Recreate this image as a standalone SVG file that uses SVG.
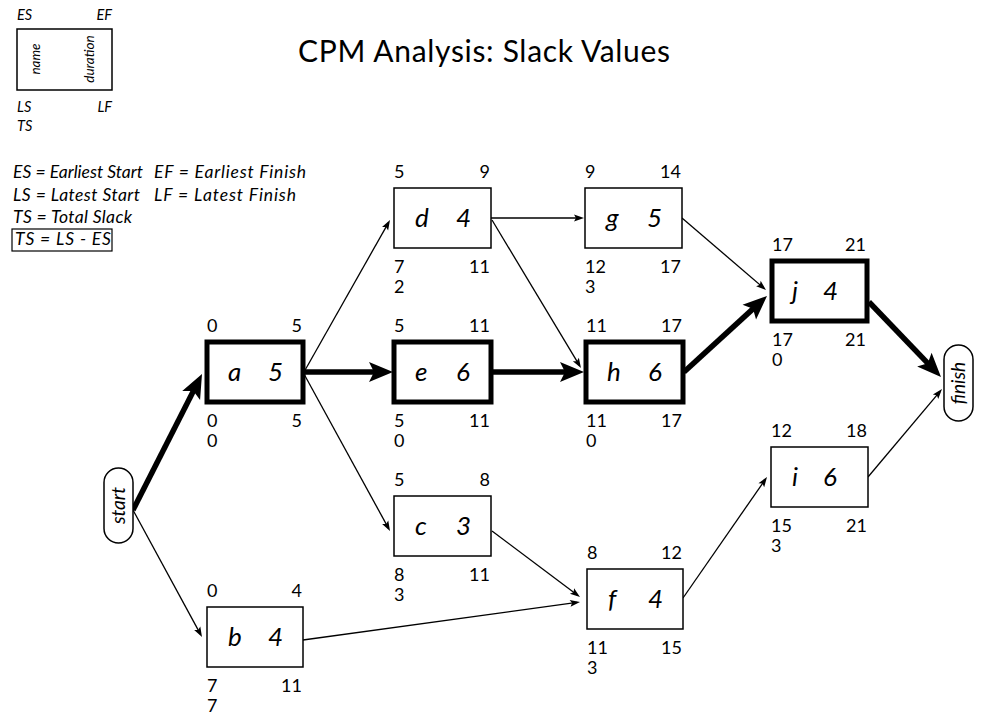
<svg xmlns="http://www.w3.org/2000/svg" width="985" height="716" viewBox="0 0 985 716">
<defs>
<style>
text{font-family:Lato,"Open Sans","Liberation Sans",sans-serif;fill:#000}
.it{font-style:italic}
.num{font-size:18px}
.nm{font-size:26px;font-style:italic}
.lg{font-size:17.5px;font-style:italic}
.lk{font-size:14.5px;font-style:italic}
.box{fill:#fff;stroke:#000;stroke-width:1.5}
.crit{fill:#fff;stroke:#000;stroke-width:5}
.thin{fill:none;stroke:#000;stroke-width:1.3;marker-end:url(#ah)}
.thick{fill:none;stroke:#000;stroke-width:5.5;marker-end:url(#ahb)}
.end{text-anchor:end}
.mid{text-anchor:middle}
</style>
<marker id="ah" markerUnits="userSpaceOnUse" markerWidth="12" markerHeight="9" refX="7" refY="3.5" orient="auto" overflow="visible">
<path d="M0,0 L10,3.5 L0,7 L2,3.5 z" fill="#000"/>
</marker>
<marker id="ahb" markerUnits="userSpaceOnUse" markerWidth="26" markerHeight="22" refX="12" refY="10" orient="auto" overflow="visible">
<path d="M0,0 L24,10 L0,20 L5,10 z" fill="#000"/>
</marker>
</defs>
<rect width="985" height="716" fill="#fff"/>

<text x="298" y="62" style="font-size:30px" textLength="372">CPM Analysis: Slack Values</text>

<g id="legend">
<rect x="17" y="29" width="95" height="61" class="box"/>
<text x="17" y="20" class="lk">ES</text>
<text x="112" y="20" class="lk end">EF</text>
<text x="17" y="112" class="lk">LS</text>
<text x="112" y="112" class="lk end">LF</text>
<text x="17" y="131" class="lk">TS</text>
<text transform="translate(36,59) rotate(-90)" x="0" y="4" class="mid it" style="font-size:13.5px">name</text>
<text transform="translate(90,59) rotate(-90)" x="0" y="4" class="mid it" style="font-size:13.5px">duration</text>
<text x="13" y="178" class="lg" textLength="130">ES = Earliest Start</text>
<text x="154" y="178" class="lg" textLength="152">EF = Earliest Finish</text>
<text x="13" y="201" class="lg" textLength="127">LS = Latest Start</text>
<text x="154" y="201" class="lg" textLength="142">LF = Latest Finish</text>
<text x="13" y="223" class="lg" textLength="119">TS = Total Slack</text>
<rect x="12" y="229" width="100" height="22" fill="none" stroke="#000" stroke-width="1.2"/>
<text x="15" y="245" class="lg" textLength="96">TS = LS - ES</text>
</g>

<g id="connectors">
<path class="thick" d="M133,510 L196.57,384.70"/>
<path class="thick" d="M305,372 L381,372"/>
<path class="thick" d="M492,372 L572,372"/>
<path class="thick" d="M684,372 L758.15,304.11"/>
<path class="thick" d="M869,302 L932.69,368.34"/>
<path class="thin" d="M133,510 L200.57,634.36"/>
<path class="thin" d="M304,372 L388.52,222.61"/>
<path class="thin" d="M304,374 L388.56,528.37"/>
<path class="thin" d="M491,218 L581,218"/>
<path class="thin" d="M492,220 L579.45,365.43"/>
<path class="thin" d="M682,218 L763.72,288.05"/>
<path class="thin" d="M492,531 L577.6,595.2"/>
<path class="thin" d="M303,640 L577.03,602.41"/>
<path class="thin" d="M683,598 L765.29,479.46"/>
<path class="thin" d="M868,477 L940.07,391.30"/>
</g>

<g id="start">
<rect x="104" y="468" width="29" height="75" rx="14.5" class="box"/>
<text transform="translate(118.5,505.5) rotate(-90)" x="0" y="6.5" class="mid it" style="font-size:19px">start</text>
</g>
<g id="finish">
<rect x="944" y="345" width="29" height="76" rx="14.5" class="box"/>
<text transform="translate(958.5,383) rotate(-90)" x="0" y="6.5" class="mid it" style="font-size:19px">finish</text>
</g>

<g id="node-a">
<rect x="207" y="342" width="96" height="60" class="crit"/>
<text x="207" y="332" class="num">0</text><text x="302" y="332" class="num end">5</text>
<text x="228" y="381" class="nm">a</text><text x="268" y="381" class="nm">5</text>
<text x="207" y="427" class="num">0</text><text x="302" y="427" class="num end">5</text>
<text x="207" y="447" class="num">0</text>
</g>
<g id="node-b">
<rect x="207" y="607" width="96" height="60" class="box"/>
<text x="207" y="597" class="num">0</text><text x="302" y="597" class="num end">4</text>
<text x="228" y="646" class="nm">b</text><text x="268" y="646" class="nm">4</text>
<text x="207" y="692" class="num">7</text><text x="302" y="692" class="num end">11</text>
<text x="207" y="712" class="num">7</text>
</g>
<g id="node-c">
<rect x="394" y="496" width="97" height="60" class="box"/>
<text x="394" y="486" class="num">5</text><text x="490" y="486" class="num end">8</text>
<text x="415" y="535" class="nm">c</text><text x="456" y="535" class="nm">3</text>
<text x="394" y="581" class="num">8</text><text x="490" y="581" class="num end">11</text>
<text x="394" y="601" class="num">3</text>
</g>
<g id="node-d">
<rect x="394" y="188" width="97" height="60" class="box"/>
<text x="394" y="178" class="num">5</text><text x="490" y="178" class="num end">9</text>
<text x="415" y="227" class="nm">d</text><text x="456" y="227" class="nm">4</text>
<text x="394" y="273" class="num">7</text><text x="490" y="273" class="num end">11</text>
<text x="394" y="293" class="num">2</text>
</g>
<g id="node-e">
<rect x="394" y="342" width="97" height="60" class="crit"/>
<text x="394" y="332" class="num">5</text><text x="490" y="332" class="num end">11</text>
<text x="415" y="381" class="nm">e</text><text x="456" y="381" class="nm">6</text>
<text x="394" y="427" class="num">5</text><text x="490" y="427" class="num end">11</text>
<text x="394" y="447" class="num">0</text>
</g>
<g id="node-f">
<rect x="587" y="569" width="96" height="60" class="box"/>
<text x="587" y="559" class="num">8</text><text x="682" y="559" class="num end">12</text>
<text x="608" y="608" class="nm">f</text><text x="648" y="608" class="nm">4</text>
<text x="587" y="654" class="num">11</text><text x="682" y="654" class="num end">15</text>
<text x="587" y="674" class="num">3</text>
</g>
<g id="node-g">
<rect x="585" y="188" width="97" height="60" class="box"/>
<text x="585" y="178" class="num">9</text><text x="681" y="178" class="num end">14</text>
<text x="606" y="227" class="nm">g</text><text x="647" y="227" class="nm">5</text>
<text x="585" y="273" class="num">12</text><text x="681" y="273" class="num end">17</text>
<text x="585" y="293" class="num">3</text>
</g>
<g id="node-h">
<rect x="586" y="342" width="97" height="60" class="crit"/>
<text x="586" y="332" class="num">11</text><text x="682" y="332" class="num end">17</text>
<text x="607" y="381" class="nm">h</text><text x="648" y="381" class="nm">6</text>
<text x="586" y="427" class="num">11</text><text x="682" y="427" class="num end">17</text>
<text x="586" y="447" class="num">0</text>
</g>
<g id="node-i">
<rect x="771" y="447" width="97" height="60" class="box"/>
<text x="771" y="437" class="num">12</text><text x="867" y="437" class="num end">18</text>
<text x="792" y="486" class="nm">i</text><text x="823" y="486" class="nm">6</text>
<text x="771" y="532" class="num">15</text><text x="867" y="532" class="num end">21</text>
<text x="771" y="552" class="num">3</text>
</g>
<g id="node-j">
<rect x="772" y="261" width="95" height="60" class="crit"/>
<text x="772" y="251" class="num">17</text><text x="866" y="251" class="num end">21</text>
<text x="792" y="300" class="nm">j</text><text x="823" y="300" class="nm">4</text>
<text x="772" y="346" class="num">17</text><text x="866" y="346" class="num end">21</text>
<text x="772" y="366" class="num">0</text>
</g>
</svg>
